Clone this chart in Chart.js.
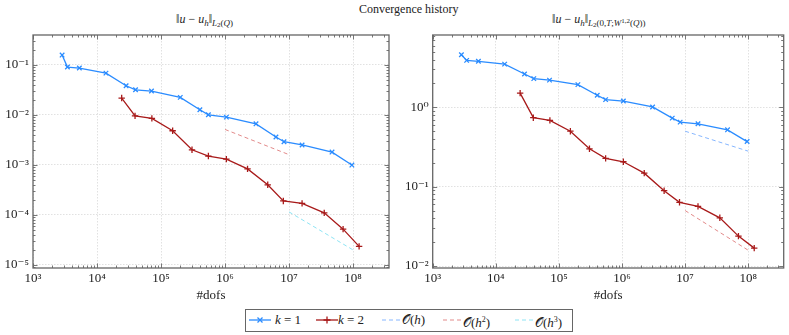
<!DOCTYPE html>
<html>
<head>
<meta charset="utf-8">
<script src="https://cdn.jsdelivr.net/npm/chart.js@4.4.0/dist/chart.umd.min.js"></script>
<style>
  body { margin: 0; background: #fff; width: 789px; height: 335px; position: relative; overflow: hidden;
         font-family: 'Liberation Serif', 'DejaVu Serif', serif; color: #222; }
  canvas { position: absolute; top: 0; }
  #c1 { left: 0; }
  #c2 { left: 395px; }
  .t { position: absolute; font-size: 12px; white-space: nowrap; line-height: 14px; }
  .t sub { font-size: 9px; vertical-align: -3px; }
  .t sub sub { font-size: 7px; vertical-align: -1px; }
  .t sub sup { font-size: 7px; vertical-align: 3px; }
  #legend { position: absolute; left: 245px; top: 309px; width: 326px; height: 21px; border: 1px solid #666; }
  .li { position: absolute; top: 3px; font-size: 13px; white-space: nowrap; line-height: 14px; }
  .li svg { position: absolute; top: 2px; }
  .li span { position: absolute; }
  .li sup { font-size: 8px; vertical-align: 5px; }
</style>
</head>
<body>
<div class="t" style="left:359px;top:2px">Convergence history</div>
<div class="t" style="left:176px;top:12px">&#8214;<i>u</i> &minus; <i>u</i><sub><i>h</i></sub>&#8214;<sub><i>L</i><sub>2</sub>(<i>Q</i>)</sub></div>
<div class="t" style="left:552px;top:12px">&#8214;<i>u</i> &minus; <i>u</i><sub><i>h</i></sub>&#8214;<sub><i>L</i><sub>2</sub>(0,<i>T</i>;<i>W</i><sup>1,2</sup>(<i>Q</i>))</sub></div>

<canvas id="c1" width="395" height="303"></canvas>
<canvas id="c2" width="394" height="303"></canvas>

<div id="legend">
  <div class="li" style="left:3px">
    <svg width="22" height="10"><line x1="0" y1="5" x2="22" y2="5" stroke="#2b8cff" stroke-width="1.3"/><path d="M8.5 2.5 L13.5 7.5 M13.5 2.5 L8.5 7.5" stroke="#2b8cff" stroke-width="1.3"/></svg>
    <span style="left:26px"><i>k</i>&nbsp;=&nbsp;1</span>
  </div>
  <div class="li" style="left:70px">
    <svg width="22" height="10"><line x1="0" y1="5" x2="22" y2="5" stroke="#a81a1a" stroke-width="1.3"/><path d="M11 1.5 L11 8.5 M7.5 5 L14.5 5" stroke="#a81a1a" stroke-width="1.3"/></svg>
    <span style="left:22px"><i>k</i>&nbsp;=&nbsp;2</span>
  </div>
  <div class="li" style="left:136px">
    <svg width="18" height="10"><line x1="0" y1="5" x2="18" y2="5" stroke="#86b6ff" stroke-width="1" stroke-dasharray="4 3"/></svg>
    <span style="left:20px">&#119978;(<i>h</i>)</span>
  </div>
  <div class="li" style="left:197px">
    <svg width="18" height="10"><line x1="0" y1="5" x2="18" y2="5" stroke="#e28a8a" stroke-width="1" stroke-dasharray="4 3"/></svg>
    <span style="left:20px">&#119978;(<i>h</i><sup>2</sup>)</span>
  </div>
  <div class="li" style="left:269px">
    <svg width="18" height="10"><line x1="0" y1="5" x2="18" y2="5" stroke="#8ee4f4" stroke-width="1" stroke-dasharray="4 3"/></svg>
    <span style="left:20px">&#119978;(<i>h</i><sup>3</sup>)</span>
  </div>
</div>

<script>
// degrees of freedom
const dofsK1 = [2850, 3450, 5300, 1.38e4, 2.85e4, 4.0e4, 7.1e4, 2.0e5, 4.05e5, 5.5e5, 1.05e6, 3.05e6, 6.25e6, 8.35e6, 1.6e7, 4.7e7, 9.6e7];
const dofsK2 = [2.43e4, 3.93e4, 7.2e4, 1.52e5, 3.05e5, 5.5e5, 1.05e6, 2.25e6, 4.65e6, 8.15e6, 1.6e7, 3.55e7, 7.0e7, 1.245e8];

// ||u - u_h||_{L2(Q)}
const errL2K1 = [0.156, 0.09, 0.086, 0.068, 0.038, 0.0316, 0.0298, 0.0223, 0.0126, 0.0100, 0.0090, 0.0066, 0.0036, 0.0029, 0.0025, 0.0018, 0.00099];
const errL2K2 = [0.0216, 0.0095, 0.0085, 0.0048, 0.0020, 0.0015, 0.0013, 0.00083, 0.00040, 0.00019, 0.00017, 0.00011, 5.2e-5, 2.35e-5];

// ||u - u_h||_{L2(0,T;W12(Q))}
const errW12K1 = [4.6, 3.9, 3.8, 3.5, 2.63, 2.3, 2.2, 1.93, 1.42, 1.25, 1.2, 1.01, 0.73, 0.65, 0.62, 0.52, 0.37];
const errW12K2 = [1.51, 0.74, 0.685, 0.50, 0.30, 0.227, 0.206, 0.148, 0.089, 0.0635, 0.0565, 0.0405, 0.0238, 0.0168];

// reference slopes
const refL2h2X = [1e6, 1e7], refL2h2Y = [5.1e-3, 1.6e-3];
const refL2h3X = [1e7, 1e8], refL2h3Y = [1.15e-4, 2.0e-5];
const refW12hX = [1e7, 1e8], refW12hY = [0.5, 0.28];
const refW12h2X = [1e7, 1e8], refW12h2Y = [0.05, 0.0158];

// tick exponents
const xTickExp = [3, 4, 5, 6, 7, 8];
const yTickExpL = [-5, -4, -3, -2, -1];
const yTickExpR = [-2, -1, 0];

const blue = '#2b8cff', red = '#a81a1a', ohC = '#86b6ff', oh2C = '#e28a8a', oh3C = '#8ee4f4';

Chart.defaults.font.family = "'Liberation Serif', 'DejaVu Serif', serif";
Chart.defaults.font.size = 13;
Chart.defaults.color = '#222';

const sup = {'-': '\u207B', '0': '\u2070', '1': '\u00B9', '2': '\u00B2', '3': '\u00B3', '4': '\u2074',
             '5': '\u2075', '6': '\u2076', '7': '\u2077', '8': '\u2078', '9': '\u2079'};
function powLabel(v) {
  const e = Math.round(Math.log10(v));
  return '10' + String(e).split('').map(c => sup[c]).join('');
}
function pts(xs, ys) { return xs.map((x, i) => ({x: x, y: ys[i]})); }

function mainSet(label, xs, ys, color, style) {
  return {
    label: label, data: pts(xs, ys), borderColor: color, backgroundColor: color,
    borderWidth: 1.3, pointStyle: style, pointRadius: 3.2, pointBorderWidth: 1.3,
    pointBorderColor: color, tension: 0, fill: false
  };
}
function refSet(label, xs, ys, color) {
  return {
    label: label, data: pts(xs, ys), borderColor: color, borderWidth: 1,
    borderDash: [4, 3], pointRadius: 0, tension: 0, fill: false
  };
}

// frame box with inner minor / major ticks on all 4 sides
const frameTicks = {
  id: 'frameTicks',
  afterDraw(chart) {
    const {ctx, chartArea: a, scales: {x, y}} = chart;
    ctx.save();
    ctx.strokeStyle = '#777';
    ctx.lineWidth = 1;
    ctx.beginPath();
    [x, y].forEach(s => {
      const lo = Math.floor(Math.log10(s.min)), hi = Math.ceil(Math.log10(s.max));
      for (let d = lo; d <= hi; d++) {
        for (let m = 1; m <= 9; m++) {
          const v = m * Math.pow(10, d);
          if (v < s.min || v > s.max) continue;
          const len = m === 1 ? 4.5 : 2.5;
          const p = Math.round(s.getPixelForValue(v)) + 0.5;
          if (s === x) {
            ctx.moveTo(p, a.bottom); ctx.lineTo(p, a.bottom - len);
            ctx.moveTo(p, a.top); ctx.lineTo(p, a.top + len);
          } else {
            ctx.moveTo(a.left, p); ctx.lineTo(a.left + len, p);
            ctx.moveTo(a.right, p); ctx.lineTo(a.right - len, p);
          }
        }
      }
    });
    ctx.stroke();
    ctx.strokeStyle = '#666';
    ctx.lineWidth = 1.3;
    ctx.strokeRect(a.left, a.top, a.right - a.left, a.bottom - a.top);
    ctx.restore();
  }
};

function makeChart(id, datasets, yMin, yMax, yExp, yWidth, padRight) {
  return new Chart(document.getElementById(id), {
    type: 'line',
    data: {datasets: datasets},
    options: {
      responsive: false,
      animation: false,
      layout: {padding: {top: 35, right: padRight, left: 0, bottom: 0}},
      plugins: {legend: {display: false}, tooltip: {enabled: false}},
      scales: {
        x: {
          type: 'logarithmic', min: 1e3, max: 3.65e8,
          afterBuildTicks: s => { s.ticks = xTickExp.map(e => ({value: Math.pow(10, e)})); },
          afterFit: s => { s.height = 35; },
          ticks: {callback: v => powLabel(v), padding: 3, maxRotation: 0, autoSkip: false},
          grid: {color: '#d9d9d9', drawTicks: false, lineWidth: 0.8},
          border: {display: false, dash: [1.5, 1.5]},
          title: {display: true, text: '#dofs', padding: {top: 0, bottom: 0}}
        },
        y: {
          type: 'logarithmic', min: yMin, max: yMax,
          afterBuildTicks: s => { s.ticks = yExp.map(e => ({value: Math.pow(10, e)})); },
          afterFit: s => { s.width = yWidth; },
          ticks: {callback: v => powLabel(v), padding: 4, autoSkip: false},
          grid: {color: '#d9d9d9', drawTicks: false, lineWidth: 0.8},
          border: {display: false, dash: [1.5, 1.5]}
        }
      }
    },
    plugins: [frameTicks]
  });
}

makeChart('c1', [
  mainSet('k = 1', dofsK1, errL2K1, blue, 'crossRot'),
  mainSet('k = 2', dofsK2, errL2K2, red, 'cross'),
  refSet('O(h^2)', refL2h2X, refL2h2Y, oh2C),
  refSet('O(h^3)', refL2h3X, refL2h3Y, oh3C)
], 8.7e-6, 0.393, yTickExpL, 33, 6);

makeChart('c2', [
  mainSet('k = 1', dofsK1, errW12K1, blue, 'crossRot'),
  mainSet('k = 2', dofsK2, errW12K2, red, 'cross'),
  refSet('O(h)', refW12hX, refW12hY, ohC),
  refSet('O(h^2)', refW12h2X, refW12h2Y, oh2C)
], 0.00944, 8.15, yTickExpR, 37.7, 1);
</script>
</body>
</html>
